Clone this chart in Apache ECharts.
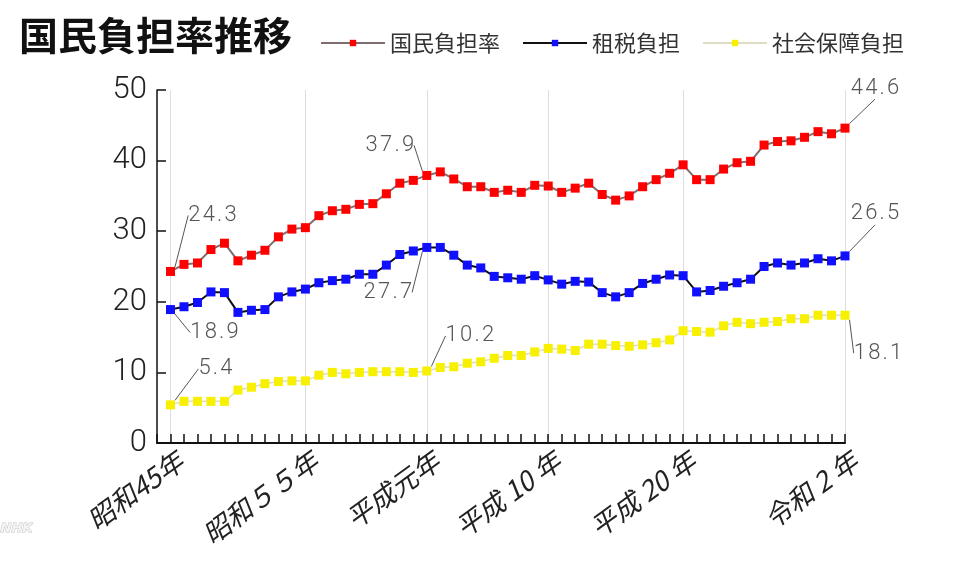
<!DOCTYPE html>
<html>
<head>
<meta charset="utf-8">
<style>
  html, body { margin: 0; padding: 0; background: #fff; }
  #chart { width: 964px; height: 567px; }
</style>
<script src="https://cdn.jsdelivr.net/npm/echarts@6/dist/echarts.min.js"></script>
</head>
<body>
<div id="chart"></div>
<script>
// 年度（先頭の1969は軸の余白用）
var years = ['1969',
    '1970','1971','1972','1973','1974','1975','1976','1977','1978','1979',
    '1980','1981','1982','1983','1984','1985','1986','1987','1988','1989',
    '1990','1991','1992','1993','1994','1995','1996','1997','1998','1999',
    '2000','2001','2002','2003','2004','2005','2006','2007','2008','2009',
    '2010','2011','2012','2013','2014','2015','2016','2017','2018','2019','2020'];

var tickLabels = {
    '1970': '昭和45年',
    '1980': '昭和５５年',
    '1989': '平成元年',
    '1998': '平成 10 年',
    '2008': '平成 20 年',
    '2020': '令和 2 年'
};

// 国民負担率
var kokumin = [
    24.3, 25.3, 25.5, 27.4, 28.3, 25.8, 26.6, 27.3, 29.2, 30.3,
    30.5, 32.2, 32.9, 33.1, 33.8, 33.9, 35.3, 36.8, 37.2, 37.9,
    38.4, 37.4, 36.3, 36.3, 35.5, 35.8, 35.5, 36.5, 36.4, 35.5,
    36.1, 36.8, 35.2, 34.4, 35.0, 36.3, 37.3, 38.2, 39.4, 37.3,
    37.3, 38.8, 39.7, 39.9, 42.2, 42.7, 42.8, 43.3, 44.1, 43.8, 44.6
];
// 租税負担
var sozei = [
    18.9, 19.3, 19.9, 21.4, 21.3, 18.5, 18.8, 18.9, 20.7, 21.4,
    21.8, 22.7, 23.0, 23.2, 23.9, 23.9, 25.2, 26.7, 27.2, 27.7,
    27.7, 26.6, 25.2, 24.8, 23.6, 23.4, 23.2, 23.7, 23.1, 22.5,
    22.9, 22.8, 21.3, 20.7, 21.3, 22.6, 23.2, 23.8, 23.7, 21.4,
    21.6, 22.2, 22.7, 23.2, 25.0, 25.5, 25.2, 25.5, 26.1, 25.8, 26.5
];
// 社会保障負担
var shakai = [
    5.4, 5.9, 5.9, 5.9, 5.9, 7.5, 7.9, 8.4, 8.7, 8.8,
    8.8, 9.6, 10.0, 9.8, 10.0, 10.1, 10.1, 10.1, 10.0, 10.2,
    10.7, 10.8, 11.3, 11.5, 12.0, 12.4, 12.4, 12.9, 13.4, 13.3,
    13.1, 14.0, 14.0, 13.8, 13.7, 13.9, 14.2, 14.6, 15.9, 15.8,
    15.7, 16.6, 17.1, 16.9, 17.1, 17.2, 17.6, 17.6, 18.1, 18.1, 18.1
];

// 注記ラベルのずらし量 [seriesIndex][dataIndex] = [dx, dy]
var noteOffsets = [
    { 0: [42, -56], 19: [-37, -30], 50: [30, -40] },
    { 0: [44, 23], 19: [-39, 45], 50: [30, -42] },
    { 0: [45, -36], 19: [43, -35], 50: [33, 38] }
];

var FONT = '"Noto Sans CJK JP", "Noto Sans", sans-serif';

function buildData(values, si) {
    return values.map(function (v, i) {
        var item = { value: [years[i + 1], v] };
        if (noteOffsets[si][i]) {
            item.label = { show: true };
        }
        return item;
    });
}

var chart = echarts.init(document.getElementById('chart'));

function makeSeries(name, values, si, lineColor, lineWidth, markColor, z) {
    return {
        name: name,
        type: 'line',
        z: z,
        symbol: 'rect',
        symbolSize: 9,
        showAllSymbol: true,
        data: buildData(values, si),
        itemStyle: { color: markColor },
        lineStyle: { color: lineColor, width: lineWidth },
        label: {
            show: false,
            formatter: function (p) {
                return p.value[1].toFixed(1).split('').join('\u200a');
            },
            fontSize: 22,
            fontFamily: 'Roboto, sans-serif',
            fontWeight: 300,
            color: '#555'
        },
        labelLayout: function (p) {
            var off = noteOffsets[si][p.dataIndex];
            if (!off) return {};
            var cx = p.rect.x + p.rect.width / 2;
            var cy = p.rect.y + p.rect.height / 2;
            var len = Math.sqrt(off[0] * off[0] + off[1] * off[1]);
            var ux = off[0] / len, uy = off[1] / len;
            var s = 10, e = len - 25;
            return {
                x: cx + off[0],
                y: cy + off[1],
                align: 'center',
                verticalAlign: 'middle',
                labelLinePoints: [
                    [cx + ux * s, cy + uy * s],
                    [cx + ux * (s + e) / 2, cy + uy * (s + e) / 2],
                    [cx + ux * e, cy + uy * e]
                ]
            };
        },
        labelLine: {
            show: true,
            lineStyle: { color: '#555', width: 1 }
        },
        emphasis: { disabled: true }
    };
}

var option = {
    backgroundColor: '#fff',
    animation: false,
    title: {
        text: '国民負担率推移',
        left: 14,
        top: 11,
        textStyle: { fontSize: 39, fontWeight: 'bold', color: '#111', fontFamily: FONT }
    },
    legend: {
        left: 315,
        top: 27,
        itemWidth: 64,
        itemHeight: 8,
        itemGap: 22,
        textStyle: { fontSize: 22, color: '#333', fontFamily: FONT },
        data: ['国民負担率', '租税負担', '社会保障負担']
    },
    grid: { left: 157, right: 119, top: 90, bottom: 124 },
    xAxis: {
        type: 'category',
        boundaryGap: false,
        data: years,
        axisLine: { lineStyle: { color: '#111', width: 2 } },
        axisTick: { show: true, inside: true, interval: 0, length: 9, lineStyle: { color: '#111', width: 1.5 } },
        splitLine: {
            show: true,
            interval: function (i, v) { return !!tickLabels[v]; },
            lineStyle: { color: '#ddd', width: 1 }
        },
        axisLabel: {
            interval: function (i, v) { return !!tickLabels[v]; },
            formatter: function (v) { return tickLabels[v] || ''; },
            rotate: 36,
            margin: 22,
            padding: [0, -12, 0, 0],
            fontSize: 27,
            fontStyle: 'italic',
            color: '#222',
            fontFamily: FONT
        }
    },
    yAxis: {
        type: 'value',
        min: 0,
        max: 50,
        interval: 10,
        axisLine: { show: true, lineStyle: { color: '#111', width: 1.5 } },
        axisTick: { show: true, inside: true, length: 9, lineStyle: { color: '#111', width: 1.5 } },
        splitLine: { show: false },
        axisLabel: {
            fontSize: 31,
            fontFamily: 'Roboto, sans-serif',
            fontWeight: 300,
            color: '#222',
            margin: 10
        }
    },
    graphic: [{
        type: 'text',
        left: 0,
        top: 522,
        style: {
            text: 'NHK',
            fontSize: 13,
            fontWeight: 'bold',
            fontStyle: 'italic',
            fill: '#f4f4f4',
            stroke: '#c4c4c4',
            lineWidth: 1,
            fontFamily: 'DejaVu Sans, sans-serif'
        }
    }],
    series: [
        makeSeries('国民負担率', kokumin, 0, '#7f6d6d', 2, '#ff0000', 3),
        makeSeries('租税負担', sozei, 1, '#111111', 2, '#1010ff', 4),
        makeSeries('社会保障負担', shakai, 2, '#dedcc4', 1.5, '#f7f000', 2)
    ]
};
chart.setOption(option);
</script>
</body>
</html>
